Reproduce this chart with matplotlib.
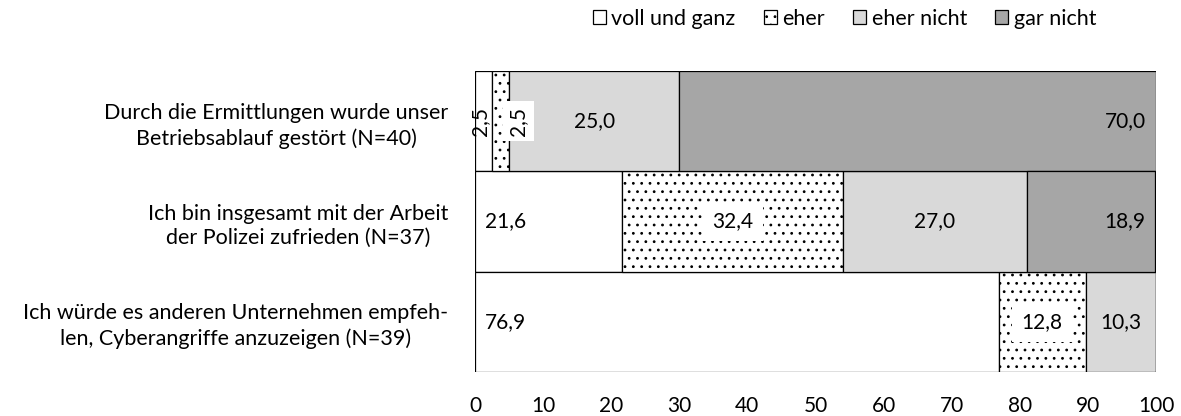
import matplotlib
matplotlib.use("Agg")
import matplotlib.pyplot as plt
import numpy as np

# Zustimmung zu Aussagen über die Polizeiarbeit (Angaben in %)
aussagen = [
    "Durch die Ermittlungen wurde unser\nBetriebsablauf gestört (N=40)",
    "Ich bin insgesamt mit der Arbeit\nder Polizei zufrieden (N=37)",
    "Ich würde es anderen Unternehmen empfeh-\nlen, Cyberangriffe anzuzeigen (N=39)",
]
kategorien = ["voll und ganz", "eher", "eher nicht", "gar nicht"]
voll_und_ganz = [2.5, 21.6, 76.9]
eher = [2.5, 32.4, 12.8]
eher_nicht = [25.0, 27.0, 10.3]
gar_nicht = [70.0, 18.9, 0.0]
x_ticks = [0, 10, 20, 30, 40, 50, 60, 70, 80, 90, 100]

plt.rcParams["font.family"] = ["Lato", "DejaVu Sans"]
plt.rcParams["hatch.linewidth"] = 0.8

farben = ["white", "white", "#d9d9d9", "#a6a6a6"]
muster = [None, "..", None, None]
reihen = [voll_und_ganz, eher, eher_nicht, gar_nicht]
fs = 15
fs_text = 15.5

fig = plt.figure(figsize=(11.81, 4.16), dpi=100)
ax = fig.add_axes([0.4022, 0.106, 0.5766, 0.723])

y = np.arange(len(aussagen))
links = np.zeros(len(aussagen))
for name, werte, farbe, h in zip(kategorien, reihen, farben, muster):
    werte = np.array(werte)
    ax.barh(y, werte, left=links, height=1.0, color=farbe, edgecolor="black",
            linewidth=0.9, hatch=h, label=name)
    for i, w in enumerate(werte):
        if w <= 0:
            continue
        mitte = links[i] + w / 2
        txt = f"{w:.1f}".replace(".", ",")
        box = dict(facecolor="white", edgecolor="none", pad=7) if h else None
        if w < 5:
            # schmale Segmente: gedrehte Beschriftung
            versatz = {"voll und ganz": -0.5, "eher": 2.6}[name]
            box = dict(facecolor="white", edgecolor="none", pad=4) if h else None
            ax.text(mitte + versatz, i, txt, rotation=90, ha="center", va="center",
                    fontsize=fs, bbox=box)
        elif name == "gar nicht":
            ax.text(links[i] + w - 1.5, i, txt, ha="right", va="center", fontsize=fs)
        elif name == "voll und ganz":
            ax.text(links[i] + 1.5, i, txt, ha="left", va="center", fontsize=fs)
        else:
            ax.text(mitte, i, txt, ha="center", va="center", fontsize=fs, bbox=box)
    links += werte

ax.set_xlim(0, 100)
ax.set_ylim(len(aussagen) - 0.5, -0.5)
ax.set_xticks(x_ticks)
ax.set_xticklabels([str(t) for t in x_ticks], fontsize=fs)
ax.set_yticks(y)
ax.set_yticklabels(aussagen, fontsize=fs_text, multialignment="center", linespacing=1.3)
ax.tick_params(axis="both", length=0)
ax.tick_params(axis="x", pad=17)
ax.tick_params(axis="y", pad=19)
for s in ax.spines.values():
    s.set_visible(False)

fig.legend(loc="upper center", bbox_to_anchor=(0.715, 1.025), ncol=4, frameon=False,
           fontsize=fs_text, handlelength=0.62, handleheight=0.62, handletextpad=0.25,
           columnspacing=1.3)

fig.savefig("out.png", dpi=100)
